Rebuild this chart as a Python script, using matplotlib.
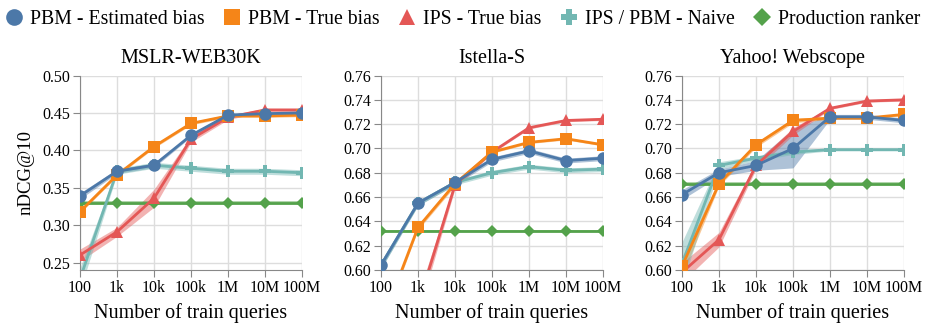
import numpy as np
import matplotlib
matplotlib.use("Agg")
from matplotlib import pyplot as plt
from matplotlib.lines import Line2D

plt.rcParams['font.family'] = ['Liberation Serif', 'DejaVu Serif']

queries = [1e2, 1e3, 1e4, 1e5, 1e6, 1e7, 1e8]
query_labels = ['100', '1k', '10k', '100k', '1M', '10M', '100M']

datasets = ['MSLR-WEB30K', 'Istella-S', 'Yahoo! Webscope']
series_names = ['PBM - Estimated bias', 'PBM - True bias', 'IPS - True bias',
                'IPS / PBM - Naive', 'Production ranker']

# MSLR-WEB30K
mslr_est = [0.339, 0.372, 0.380, 0.420, 0.447, 0.449, 0.450]
mslr_true = [0.318, 0.367, 0.405, 0.436, 0.446, 0.446, 0.447]
mslr_ips = [0.260, 0.291, 0.336, 0.415, 0.444, 0.454, 0.454]
mslr_naive = [0.228, 0.372, 0.380, 0.376, 0.372, 0.372, 0.370]
mslr_prod = [0.330] * 7
mslr_err = [[0.004, 0.003, 0.003, 0.002, 0.002, 0.002, 0.002],
            [0.002, 0.002, 0.002, 0.002, 0.002, 0.002, 0.002],
            [0.008, 0.006, 0.012, 0.004, 0.003, 0.002, 0.002],
            [0.015, 0.004, 0.004, 0.004, 0.004, 0.004, 0.004],
            [0.002] * 7]

# Istella-S
ist_est = [0.604, 0.655, 0.672, 0.691, 0.698, 0.690, 0.692]
ist_true = [0.555, 0.635, 0.671, 0.697, 0.705, 0.708, 0.703]
ist_ips = [0.500, 0.571, 0.670, 0.697, 0.717, 0.723, 0.724]
ist_naive = [0.604, 0.655, 0.672, 0.680, 0.685, 0.682, 0.683]
ist_prod = [0.632] * 7
ist_err = [[0.003, 0.002, 0.002, 0.002, 0.002, 0.002, 0.002],
           [0.003, 0.002, 0.002, 0.001, 0.001, 0.001, 0.001],
           [0.010, 0.008, 0.003, 0.001, 0.001, 0.001, 0.001],
           [0.003, 0.002, 0.002, 0.002, 0.002, 0.002, 0.002],
           [0.001] * 7]

# Yahoo! Webscope
yah_est = [0.662, 0.680, 0.686, 0.700, 0.726, 0.726, 0.723]
yah_true = [0.603, 0.671, 0.703, 0.723, 0.725, 0.725, 0.728]
yah_ips = [0.598, 0.625, 0.686, 0.714, 0.733, 0.739, 0.740]
yah_naive = [0.605, 0.686, 0.692, 0.697, 0.699, 0.699, 0.699]
yah_prod = [0.671] * 7
yah_err = [[0.004, 0.003, 0.004, 0.016, 0.002, 0.002, 0.002],
           [0.008, 0.002, 0.002, 0.002, 0.001, 0.001, 0.001],
           [0.008, 0.006, 0.003, 0.003, 0.001, 0.001, 0.001],
           [0.018, 0.003, 0.002, 0.002, 0.001, 0.001, 0.001],
           [0.001] * 7]

all_values = [
    [mslr_est, mslr_true, mslr_ips, mslr_naive, mslr_prod],
    [ist_est, ist_true, ist_ips, ist_naive, ist_prod],
    [yah_est, yah_true, yah_ips, yah_naive, yah_prod],
]
all_errs = [mslr_err, ist_err, yah_err]
ylims = [(0.24, 0.50), (0.60, 0.76), (0.60, 0.76)]
yticks = [np.arange(0.25, 0.501, 0.05), np.arange(0.60, 0.761, 0.02), np.arange(0.60, 0.761, 0.02)]

colors = ['#4c78a8', '#f58518', '#e45756', '#72b7b2', '#54a24b']
markers = ['o', 's', '^', 'P', 'D']
msizes = [9, 9, 8, 8.5, 6.5]
draw_order = [4, 3, 2, 1, 0]

fig = plt.figure(figsize=(9.25, 3.25), dpi=100)
lefts = [80, 381, 682]
for i, name in enumerate(datasets):
    ax = fig.add_axes([lefts[i] / 925, 1 - 270 / 325, 222 / 925, (270 - 75.5) / 325])
    ax.set_xscale('log')
    for j in draw_order:
        vals = np.array(all_values[i][j])
        err = np.array(all_errs[i][j])
        ax.fill_between(queries, vals - err, vals + err, color=colors[j],
                        alpha=0.45, lw=0, zorder=2 + j * 0.1)
        ax.plot(queries, vals, color=colors[j], lw=2, marker=markers[j],
                markersize=msizes[j], markeredgewidth=0, zorder=3 + (4 - j) * 0.1)
    ax.set_xlim(1e2, 1e8)
    ax.set_ylim(*ylims[i])
    ax.set_xticks(queries)
    ax.set_xticklabels(query_labels)
    ax.minorticks_off()
    ax.set_yticks(yticks[i])
    ax.set_yticklabels(['%.2f' % v for v in yticks[i]])
    ax.grid(True, color='#dddddd', lw=1)
    ax.set_axisbelow(True)
    for s in ['top', 'right']:
        ax.spines[s].set_visible(False)
    for s in ['left', 'bottom']:
        ax.spines[s].set_color('#888888')
    ax.tick_params(axis='both', colors='#888888', labelcolor='black',
                   labelsize=11.5, length=5, pad=2)
    ax.set_title(name, fontsize=14.5, pad=9)
    ax.set_xlabel('Number of train queries', fontsize=14.5, labelpad=5)
    if i == 0:
        ax.set_ylabel('nDCG@10', fontsize=13.5, labelpad=6)

handles = [Line2D([], [], color=colors[j], marker=markers[j], linestyle='none',
                  markersize=msizes[j] + 3, markeredgewidth=0) for j in range(5)]
fig.legend(handles, series_names, loc='upper center', bbox_to_anchor=(0.5, 1.025),
           ncol=5, frameon=False, fontsize=14.2, handletextpad=0.3,
           columnspacing=0.9, handlelength=1.0)

fig.savefig('out.png', dpi=100)
